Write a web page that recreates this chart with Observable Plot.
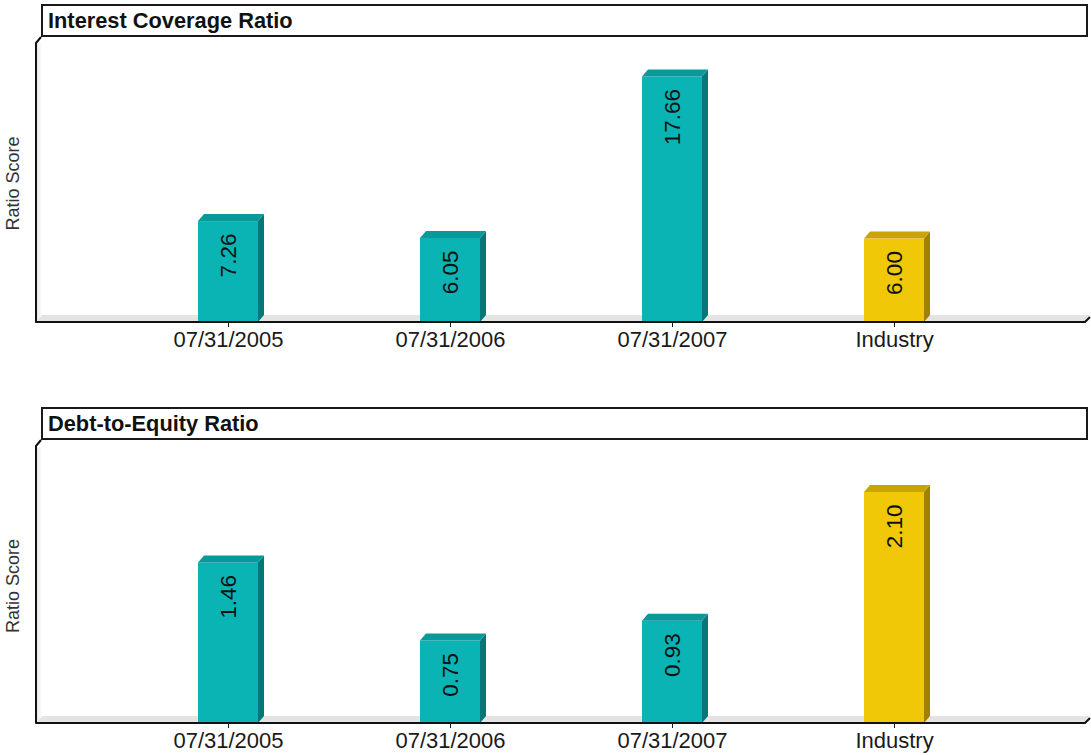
<!DOCTYPE html>
<html><head><meta charset="utf-8">
<script src="https://cdn.jsdelivr.net/npm/d3@7"></script>
<script src="https://cdn.jsdelivr.net/npm/@observablehq/plot@0.6"></script>
<style>
body{margin:0;background:#fff;font-family:"Liberation Sans",Arial,sans-serif;}
.title{box-sizing:border-box;margin-left:41px;width:1047px;height:33px;border:2px solid #1a1a1a;font-weight:bold;font-size:21.8px;line-height:29px;padding-left:5px;color:#111;background:#fff;}
#p1 .title{margin-top:4px}
#p2 .title{margin-top:46px}
svg{display:block}
</style></head><body>
<div id="p1"><div class="title">Interest Coverage Ratio</div></div>
<div id="p2"><div class="title">Debt-to-Equity Ratio</div></div>
<script>
// ---- data ----
const categories = ["07/31/2005", "07/31/2006", "07/31/2007", "Industry"];
const kinds = ["company", "company", "company", "industry"];
const interestCoverage = [7.26, 6.05, 17.66, 6.00];
const debtToEquity = [1.46, 0.75, 0.93, 2.10];
const yLabel = "Ratio Score";

// ---- styles ----
const palette = {
  company: {front: "#0ab4b4", top: "#089a9a", side: "#067676"},
  industry: {front: "#f0c808", top: "#c9a503", side: "#a08200"}
};
const FONT = '"Liberation Sans", Arial, sans-serif';
const D = 6, H = 7; // 3D depth offsets (px)

function panel(values, yMax, height, marginTop, marginBottom) {
  const data = categories.map((c, i) => ({cat: c, value: values[i], kind: kinds[i]}));

  const backdrop = (index, scales, vals, dims) => {
    const {width, height, marginLeft: L, marginRight: R, marginTop: T, marginBottom: B} = dims;
    const x0 = L, x1 = width - R, yb = height - B;
    const g = d3.create("svg:g");
    const grad = "wall" + Math.random().toString(36).slice(2);
    const defs = g.append("defs");
    const lg = defs.append("linearGradient").attr("id", grad).attr("x1", 0).attr("x2", 1).attr("y1", 0).attr("y2", 0);
    lg.append("stop").attr("offset", 0).attr("stop-color", "#e4e4e4");
    lg.append("stop").attr("offset", 1).attr("stop-color", "#ffffff");
    g.append("path").attr("d", `M${x0},${T}L${x0 + D},${T - 2}L${x0 + D},${yb - H}L${x0},${yb}Z`).attr("fill", `url(#${grad})`);
    g.append("path").attr("d", `M${x0},${yb}L${x0 + D},${yb - H}L${x1 + 5},${yb - H}L${x1},${yb}Z`).attr("fill", "#e4e4e4");
    return g.node();
  };

  const faces = (index, scales) => {
    const g = d3.create("svg:g");
    const bw = typeof scales.x.bandwidth === "function" ? scales.x.bandwidth() : scales.x.bandwidth;
    for (const d of data) {
      const xl = scales.x(d.cat), xr = xl + bw, yt = scales.y(d.value), yb = scales.y(0);
      const c = palette[d.kind];
      g.append("path").attr("d", `M${xr},${yt}L${xr + D},${yt - H}L${xr + D},${yb - H}L${xr},${yb}Z`).attr("fill", c.side);
      g.append("path").attr("d", `M${xl},${yt}L${xl + D},${yt - H}L${xr + D},${yt - H}L${xr},${yt}Z`).attr("fill", c.top);
    }
    return g.node();
  };

  const frameLines = (index, scales, vals, dims) => {
    const {width, height, marginLeft: L, marginRight: R, marginBottom: B} = dims;
    const x0 = L, x1 = width - R, yb = height - B;
    return d3.create("svg:path")
      .attr("d", `M${x0 + 5},0L${x0},6V${yb}H${x1}L${x1 + 5},${yb - 5}`)
      .attr("fill", "none").attr("stroke", "#111").attr("stroke-width", 2)
      .attr("stroke-linejoin", "round").node();
  };

  return Plot.plot({
    width: 1091,
    height,
    marginLeft: 36,
    marginRight: 6,
    marginTop,
    marginBottom,
    style: {fontFamily: FONT, background: "transparent", overflow: "visible"},
    x: {domain: categories, paddingInner: 0.73, paddingOuter: 0.7275, axis: null},
    y: {domain: [0, yMax], axis: null},
    color: {domain: ["company", "industry"], range: [palette.company.front, palette.industry.front]},
    marks: [
      backdrop,
      Plot.barY(data, {x: "cat", y: "value", fill: "kind"}),
      faces,
      Plot.text(data, {x: "cat", y: "value", text: d => d.value.toFixed(2), rotate: -90,
        textAnchor: "end", dy: 12, fontSize: 22.5, fill: "#111"}),
      frameLines,
      Plot.axisX({tickSize: 5, tickPadding: 4, fontSize: 22, label: null, color: "#1a1a1a"}),
      Plot.text([yLabel], {frameAnchor: "left", textAnchor: "middle", rotate: -90, dx: -23, fontSize: 18, fill: "#333"})
    ]
  });
}

document.getElementById("p1").appendChild(panel(interestCoverage, 20, 324, 7, 39));
document.getElementById("p2").appendChild(panel(debtToEquity, 2.5, 315, 8, 32));
</script>
</body></html>
